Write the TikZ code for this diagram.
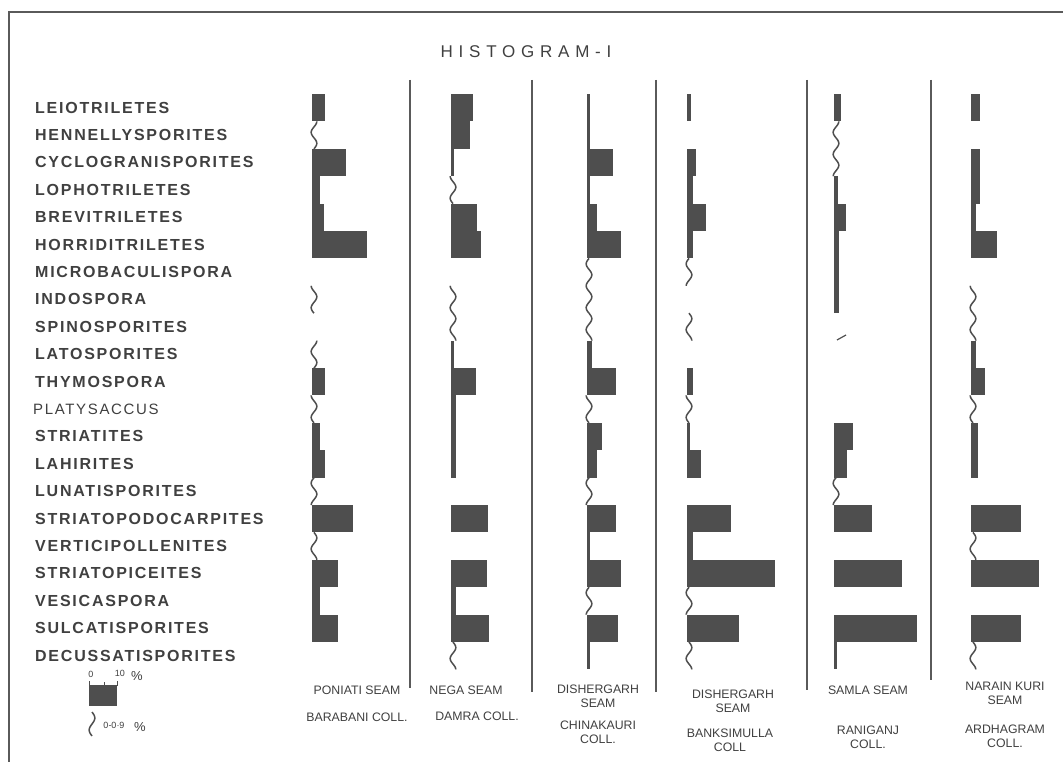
\documentclass[tikz,border=0pt]{standalone}
\usepackage{fontspec}
\setmainfont{Liberation Sans}
\newfontfamily\labfont[LetterSpace=11]{Liberation Sans}
\newfontfamily\titfont[LetterSpace=34]{Liberation Sans}
\definecolor{ink}{HTML}{404040}
\definecolor{barc}{HTML}{4E4E4E}
\definecolor{linec}{HTML}{5A5A5A}
\begin{document}
\begin{tikzpicture}[x=1pt,y=-1pt,
  lab/.style={anchor=west,inner sep=0pt,text=ink,font=\labfont\bfseries\fontsize{16}{16}\selectfont},
  lablight/.style={anchor=west,inner sep=0pt,text=ink,font=\labfont\fontsize{15}{15}\selectfont},
  capt/.style={inner sep=0pt,text=ink,align=center,font=\fontsize{12.3}{14}\selectfont},
  legtxt/.style={inner sep=0pt,text=ink,font=\fontsize{9}{9}\selectfont},
  pct/.style={inner sep=0pt,text=ink,font=\fontsize{13}{13}\selectfont},
  bar/.style={fill=barc},
  wavy/.style={draw=barc,line width=1.5pt},
  divider/.style={draw=linec,line width=1.4pt},
  frame/.style={draw=linec,line width=2.4pt}]
\useasboundingbox (0,0) rectangle (1063,762);
\fill[white] (0,0) rectangle (1063,762);
% frame
\draw[frame] (1063,12) -- (9,12) -- (9,762);
% title
\node[inner sep=0pt,text=ink,font=\titfont\fontsize{17}{17}\selectfont] (title) at (526,52) {HISTOGRAM-I};
% row labels
\node[lab] (r0) at (35,107.5) {LEIOTRILETES};
\node[lab] (r1) at (35,134.9) {HENNELLYSPORITES};
\node[lab] (r2) at (35,162.3) {CYCLOGRANISPORITES};
\node[lab] (r3) at (35,189.7) {LOPHOTRILETES};
\node[lab] (r4) at (35,217.1) {BREVITRILETES};
\node[lab] (r5) at (35,244.5) {HORRIDITRILETES};
\node[lab] (r6) at (35,271.9) {MICROBACULISPORA};
\node[lab] (r7) at (35,299.3) {INDOSPORA};
\node[lab] (r8) at (35,326.7) {SPINOSPORITES};
\node[lab] (r9) at (35,354.1) {LATOSPORITES};
\node[lab] (r10) at (35,381.5) {THYMOSPORA};
\node[lablight] (r11) at (33,408.9) {PLATYSACCUS};
\node[lab] (r12) at (35,436.3) {STRIATITES};
\node[lab] (r13) at (35,463.7) {LAHIRITES};
\node[lab] (r14) at (35,491.1) {LUNATISPORITES};
\node[lab] (r15) at (35,518.5) {STRIATOPODOCARPITES};
\node[lab] (r16) at (35,545.9) {VERTICIPOLLENITES};
\node[lab] (r17) at (35,573.3) {STRIATOPICEITES};
\node[lab] (r18) at (35,600.7) {VESICASPORA};
\node[lab] (r19) at (35,628.1) {SULCATISPORITES};
\node[lab] (r20) at (35,655.5) {DECUSSATISPORITES};
% dividers
\draw[divider] (410,80) -- (410,688);
\draw[divider] (532,80) -- (532,692);
\draw[divider] (656,80) -- (656,692);
\draw[divider] (807,80) -- (807,690);
\draw[divider] (931,80) -- (931,680);
% ---------- column 1
\def\xo{312}
\foreach \r/\w in {0/13,2/34,3/8,4/12,5/55,10/13,12/8,13/13,15/41,17/26,18/8,19/26}
  \fill[bar] (\xo,{94+27.4*\r}) rectangle ++(\w,27.4);
\foreach \r in {1,7,9,11,14,16}{
  \pgfmathsetmacro\ya{94+27.4*\r}\pgfmathsetmacro\yb{\ya+27.4}
  \draw[wavy] plot[variable=\t,domain=\ya:\yb,samples=30,smooth] ({\xo+2+2.8*sin((\t-94)*16.42)},{\t});}
% ---------- column 2
\def\xo{451}
\foreach \r/\w in {0/22,1/19,4/26,5/30,10/25,11/5,12/5,13/5,15/37,17/36,18/5,19/38}
  \fill[bar] (\xo,{94+27.4*\r}) rectangle ++(\w,27.4);
\foreach \r in {2,9}
  \fill[bar] (\xo,{94+27.4*\r}) rectangle ++(3,27.4);
\foreach \r in {3,7,8,20}{
  \pgfmathsetmacro\ya{94+27.4*\r}\pgfmathsetmacro\yb{\ya+27.4}
  \draw[wavy] plot[variable=\t,domain=\ya:\yb,samples=30,smooth] ({\xo+2+2.8*sin((\t-94)*16.42)},{\t});}
% ---------- column 3
\def\xo{587}
\foreach \r/\w in {2/26,4/10,5/34,9/5,10/29,12/15,13/10,15/29,17/34,19/31}
  \fill[bar] (\xo,{94+27.4*\r}) rectangle ++(\w,27.4);
\foreach \r in {0,1,3,16,20}
  \fill[bar] (\xo,{94+27.4*\r}) rectangle ++(3,27.4);
\foreach \r in {6,7,8,11,14,18}{
  \pgfmathsetmacro\ya{94+27.4*\r}\pgfmathsetmacro\yb{\ya+27.4}
  \draw[wavy] plot[variable=\t,domain=\ya:\yb,samples=30,smooth] ({\xo+2+2.8*sin((\t-94)*16.42)},{\t});}
% ---------- column 4
\def\xo{687}
\foreach \r/\w in {0/4,2/9,3/6,4/19,5/6,10/6,13/14,15/44,16/6,17/88,19/52}
  \fill[bar] (\xo,{94+27.4*\r}) rectangle ++(\w,27.4);
\foreach \r in {12}
  \fill[bar] (\xo,{94+27.4*\r}) rectangle ++(3,27.4);
\foreach \r in {6,8,11,18,20}{
  \pgfmathsetmacro\ya{94+27.4*\r}\pgfmathsetmacro\yb{\ya+27.4}
  \draw[wavy] plot[variable=\t,domain=\ya:\yb,samples=30,smooth] ({\xo+2+2.8*sin((\t-94)*16.42)},{\t});}
% ---------- column 5
\def\xo{834}
\foreach \r/\w in {0/7,3/4,4/12,5/5,6/5,7/5,12/19,13/13,15/38,17/68,19/83}
  \fill[bar] (\xo,{94+27.4*\r}) rectangle ++(\w,27.4);
\foreach \r in {20}
  \fill[bar] (\xo,{94+27.4*\r}) rectangle ++(3,27.4);
\foreach \r in {1,2,14}{
  \pgfmathsetmacro\ya{94+27.4*\r}\pgfmathsetmacro\yb{\ya+27.4}
  \draw[wavy] plot[variable=\t,domain=\ya:\yb,samples=30,smooth] ({\xo+2+2.8*sin((\t-94)*16.42)},{\t});}
\draw[draw=barc,line width=1.2pt] (837,340) -- (846,335);
% ---------- column 6
\def\xo{971}
\foreach \r/\w in {0/9,2/9,3/9,4/5,5/26,9/5,10/14,12/7,13/7,15/50,17/68,19/50}
  \fill[bar] (\xo,{94+27.4*\r}) rectangle ++(\w,27.4);
\foreach \r in {7,8,11,16,20}{
  \pgfmathsetmacro\ya{94+27.4*\r}\pgfmathsetmacro\yb{\ya+27.4}
  \draw[wavy] plot[variable=\t,domain=\ya:\yb,samples=30,smooth] ({\xo+2+2.8*sin((\t-94)*16.42)},{\t});}
% ---------- column captions
\node[capt] (s1) at (357,690) {PONIATI SEAM};
\node[capt] (c1) at (357,717) {BARABANI COLL.};
\node[capt] (s2) at (466,690) {NEGA SEAM};
\node[capt] (c2) at (477,716) {DAMRA COLL.};
\node[capt] (s3) at (598,696) {DISHERGARH\\SEAM};
\node[capt] (c3) at (598,732) {CHINAKAURI\\COLL.};
\node[capt] (s4) at (733,701) {DISHERGARH\\SEAM};
\node[capt] (c4) at (730,740) {BANKSIMULLA\\COLL};
\node[capt] (s5) at (868,690) {SAMLA SEAM};
\node[capt] (c5) at (868,737) {RANIGANJ\\COLL.};
\node[capt] (s6) at (1005,693) {NARAIN KURI\\SEAM};
\node[capt] (c6) at (1005,736) {ARDHAGRAM\\COLL.};
% ---------- legend
\fill[bar] (89,685) rectangle (117,706);
\draw[draw=barc,line width=1pt] (89,686) -- (89,681) (104,686) -- (104,682) (117,686) -- (117,681);
\node[legtxt] (leg0) at (91,674) {0};
\node[legtxt] (leg10) at (120,673) {10};
\node[pct] (legp1) at (137,676) {\%};
\pgfmathsetmacro\ya{712}\pgfmathsetmacro\yb{736}
\draw[wavy] plot[variable=\t,domain=\ya:\yb,samples=30,smooth] ({92+2.8*sin((\t-712)*15)},{\t});
\node[legtxt] (leg09) at (114,725) {0-0·9};
\node[pct] (legp2) at (140,727) {\%};
\end{tikzpicture}
\end{document}
